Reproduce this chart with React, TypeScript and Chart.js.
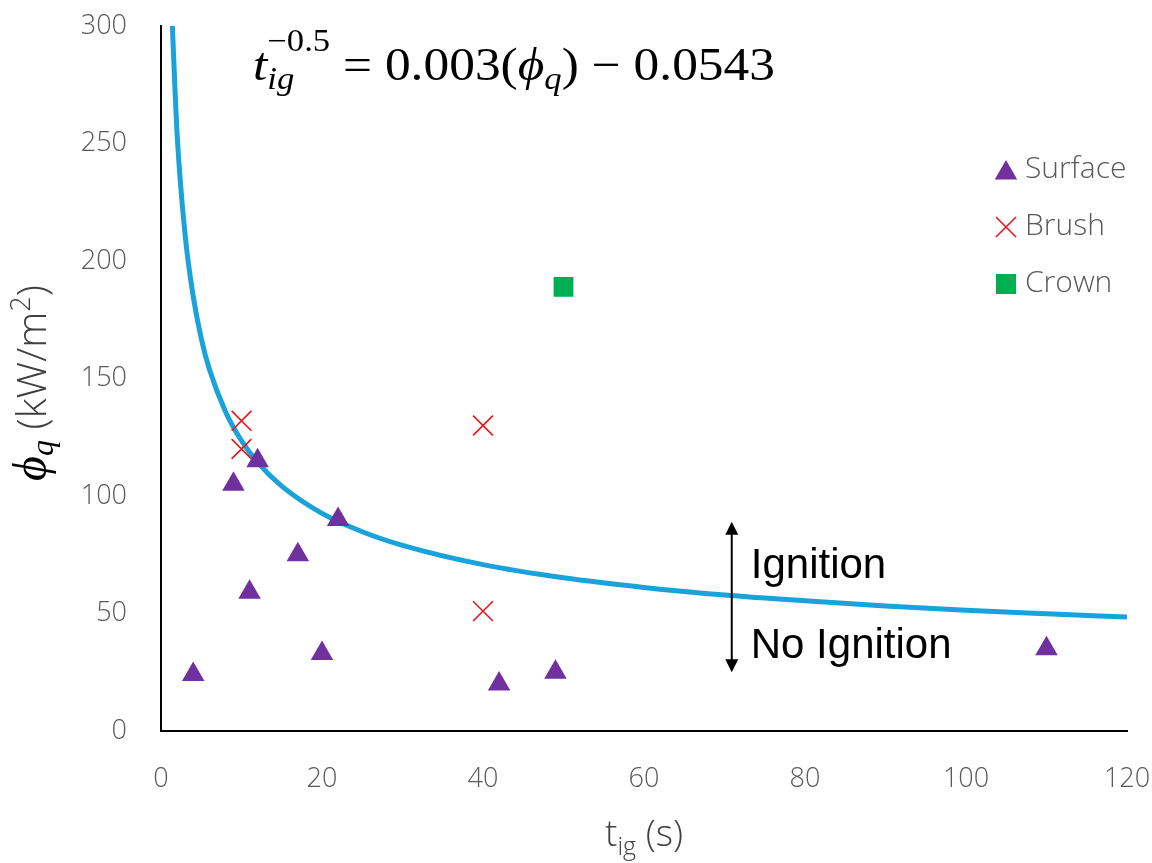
import React, { useEffect, useRef } from "react";
import { Chart, registerables } from "chart.js";

Chart.register(...registerables);

// ---- Data ----
const surfaceT = [4, 9, 11, 12, 17, 20, 22, 42, 49, 110];
const surfaceQ = [24, 105, 59, 115, 75, 33, 90, 20, 25, 35];

const brushT = [10, 10, 40, 40];
const brushQ = [132, 120, 130, 51];

const crownT = [50];
const crownQ = [189];

// fitted curve t_ig^-0.5 = 0.003(phi_q) - 0.0543
const curveT = [1.35, 2, 3, 4, 5, 6, 8, 10, 12, 15, 20, 25, 30, 40, 50, 60, 70, 80, 90, 100, 110, 120];
const curveQ = [305, 254, 211, 185, 167, 154, 136, 123.5, 114.3, 104.2, 92.6, 84.8, 79, 70.8, 65.2, 61.1, 57.9, 55.4, 53.2, 51.4, 49.9, 48.5];

const xTicks = [0, 20, 40, 60, 80, 100, 120];
const yTicks = [0, 50, 100, 150, 200, 250, 300];

const legendLabels = ["Surface", "Brush", "Crown"];

const COLORS = {
  surface: "#7030A0",
  brush: "#E8161C",
  crown: "#00B050",
  curve: "#1AA2DA",
  tick: "#595959",
};

const LIGHT = "300";
const SANS = '"Open Sans", "Noto Sans", sans-serif';
const SERIF = '"Liberation Serif", "DejaVu Serif", serif';
const ARIAL = '"Liberation Sans", Arial, sans-serif';

function toPts(xs: number[], ys: number[]) {
  return xs.map((x, i) => ({ x, y: ys[i] }));
}

function drawMarker(ctx: CanvasRenderingContext2D, kind: string, x: number, y: number) {
  ctx.save();
  if (kind === "triangle") {
    const r = 13;
    ctx.fillStyle = COLORS.surface;
    ctx.beginPath();
    ctx.moveTo(x, y - r);
    ctx.lineTo(x + Math.sin((2 * Math.PI) / 3) * r, y + r / 2);
    ctx.lineTo(x - Math.sin((2 * Math.PI) / 3) * r, y + r / 2);
    ctx.closePath();
    ctx.fill();
  } else if (kind === "cross") {
    const h = 10;
    ctx.strokeStyle = COLORS.brush;
    ctx.lineWidth = 1.6;
    ctx.beginPath();
    ctx.moveTo(x - h, y - h);
    ctx.lineTo(x + h, y + h);
    ctx.moveTo(x + h, y - h);
    ctx.lineTo(x - h, y + h);
    ctx.stroke();
  } else {
    ctx.fillStyle = COLORS.crown;
    ctx.fillRect(x - 10, y - 10, 20, 20);
  }
  ctx.restore();
}

const overlayPlugin = {
  id: "overlay",
  afterDraw(chart: any) {
    const ctx: CanvasRenderingContext2D = chart.ctx;
    const xs = chart.scales.x;
    const ys = chart.scales.y;
    const ca = chart.chartArea;

    // ---- legend ----
    const kinds = ["triangle", "cross", "square"];
    const legendY = [169, 226, 283];
    ctx.save();
    ctx.font = `${LIGHT} 30px ${SANS}`;
    ctx.fillStyle = COLORS.tick;
    ctx.textBaseline = "middle";
    ctx.textAlign = "left";
    legendLabels.forEach((lab, i) => {
      drawMarker(ctx, kinds[i], 1006, legendY[i] + (kinds[i] === "triangle" ? 4 : 1));
      ctx.fillText(lab, 1025, legendY[i]);
    });
    ctx.restore();

    // ---- arrow with Ignition / No Ignition ----
    const ax = xs.getPixelForValue(70.9);
    const aTop = ys.getPixelForValue(89);
    const aBot = ys.getPixelForValue(25);
    ctx.save();
    ctx.strokeStyle = "#000";
    ctx.fillStyle = "#000";
    ctx.lineWidth = 2;
    ctx.beginPath();
    ctx.moveTo(ax, aTop + 10);
    ctx.lineTo(ax, aBot - 10);
    ctx.stroke();
    ctx.beginPath();
    ctx.moveTo(ax, aTop);
    ctx.lineTo(ax - 6.5, aTop + 13);
    ctx.lineTo(ax + 6.5, aTop + 13);
    ctx.closePath();
    ctx.fill();
    ctx.beginPath();
    ctx.moveTo(ax, aBot);
    ctx.lineTo(ax - 6.5, aBot - 13);
    ctx.lineTo(ax + 6.5, aBot - 13);
    ctx.closePath();
    ctx.fill();
    ctx.font = `42px ${ARIAL}`;
    ctx.textAlign = "left";
    ctx.textBaseline = "alphabetic";
    ctx.fillText("Ignition", ax + 19, ys.getPixelForValue(65.2));
    ctx.fillText("No Ignition", ax + 19, ys.getPixelForValue(31.1));
    ctx.restore();

    // ---- equation ----
    ctx.save();
    ctx.fillStyle = "#000";
    ctx.textBaseline = "alphabetic";
    ctx.textAlign = "left";
    const big = 46;
    const small = 31;
    const base = 80;
    const startX = 253;
    const targetW = 522;
    const items: Array<{ t: string; f: string; dy: number; adv: boolean }> = [
      { t: "t", f: `italic ${big}px ${SERIF}`, dy: 0, adv: true },
      { t: "\u22120.5", f: `${small}px ${SERIF}`, dy: -29, adv: false },
      { t: "ig", f: `italic ${small}px ${SERIF}`, dy: 9, adv: true },
      { t: " = 0.003(", f: `${big}px ${SERIF}`, dy: 0, adv: true },
      { t: "\u03D5", f: `italic ${big}px ${SERIF}`, dy: 0, adv: true },
      { t: "q", f: `italic ${small}px ${SERIF}`, dy: 9, adv: true },
      { t: ") \u2212 0.0543", f: `${big}px ${SERIF}`, dy: 0, adv: true },
    ];
    let total = 0;
    let pendingSup = 0;
    items.forEach((it) => {
      ctx.font = it.f;
      const w = ctx.measureText(it.t).width;
      if (!it.adv) {
        pendingSup = w;
      } else if (pendingSup) {
        total += Math.max(pendingSup, w);
        pendingSup = 0;
      } else total += w;
    });
    const sx = targetW / total;
    ctx.translate(startX, 0);
    ctx.scale(sx, 1);
    let cx = 0;
    pendingSup = 0;
    items.forEach((it) => {
      ctx.font = it.f;
      const w = ctx.measureText(it.t).width;
      ctx.fillText(it.t, cx, base + it.dy);
      if (!it.adv) {
        pendingSup = w;
      } else if (pendingSup) {
        cx += Math.max(pendingSup, w);
        pendingSup = 0;
      } else cx += w;
    });
    ctx.restore();

    // ---- x axis title ----
    ctx.save();
    ctx.fillStyle = "#404040";
    ctx.textBaseline = "alphabetic";
    ctx.textAlign = "left";
    const tF = `${LIGHT} 37px ${SANS}`;
    const sF = `${LIGHT} 25px ${SANS}`;
    ctx.font = tF;
    const wT = ctx.measureText("t").width;
    const wS = ctx.measureText(" (s)").width;
    ctx.font = sF;
    const wIg = ctx.measureText("ig").width;
    const totalX = wT + wIg + wS;
    const midX = (ca.left + ca.right) / 2;
    let px = midX - totalX / 2;
    const xb = 846;
    ctx.font = tF;
    ctx.fillText("t", px, xb);
    px += wT;
    ctx.font = sF;
    ctx.fillText("ig", px, xb + 9);
    px += wIg;
    ctx.font = tF;
    ctx.fillText(" (s)", px, xb);
    ctx.restore();

    // ---- y axis title (rotated) ----
    ctx.save();
    ctx.translate(46, 383);
    ctx.rotate(-Math.PI / 2);
    ctx.textBaseline = "alphabetic";
    ctx.textAlign = "left";
    const phiF = `italic 48px ${SERIF}`;
    const qF = `italic 32px ${SERIF}`;
    const uF = `${LIGHT} 41px ${SANS}`;
    const supF = `${LIGHT} 27px ${SANS}`;
    ctx.font = phiF;
    const wPhi = ctx.measureText("\u03D5").width;
    ctx.font = qF;
    const wQ = ctx.measureText("q").width;
    ctx.font = uF;
    const wU = ctx.measureText(" (kW/m").width;
    const wP = ctx.measureText(")").width;
    ctx.font = supF;
    const w2 = ctx.measureText("2").width;
    const totY = wPhi + wQ + wU + w2 + wP;
    let py = -totY / 2;
    ctx.fillStyle = "#000";
    ctx.font = phiF;
    ctx.fillText("\u03D5", py, 0);
    py += wPhi;
    ctx.font = qF;
    ctx.fillText("q", py, 7);
    py += wQ;
    ctx.fillStyle = "#404040";
    ctx.font = uF;
    ctx.fillText(" (kW/m", py, 0);
    py += wU;
    ctx.font = supF;
    ctx.fillText("2", py, -16);
    py += w2;
    ctx.font = uF;
    ctx.fillText(")", py, 0);
    ctx.restore();
  },
};

function zeroPad(s: any) {
  s.paddingTop = 0;
  s.paddingBottom = 0;
  s.paddingLeft = 0;
  s.paddingRight = 0;
}

export default function App() {
  const ref = useRef<HTMLCanvasElement | null>(null);

  useEffect(() => {
    document.body.style.margin = "0";
    const canvas = ref.current;
    if (!canvas) return;
    const chart = new Chart(canvas, {
      type: "scatter",
      data: {
        datasets: [
          {
            label: legendLabels[0],
            data: toPts(surfaceT, surfaceQ),
            pointStyle: "triangle",
            pointRadius: 13,
            pointHoverRadius: 13,
            backgroundColor: COLORS.surface,
            borderColor: COLORS.surface,
            borderWidth: 0,
            order: 1,
          },
          {
            label: legendLabels[1],
            data: toPts(brushT, brushQ),
            pointStyle: "crossRot",
            pointRadius: 14,
            pointHoverRadius: 14,
            borderColor: COLORS.brush,
            backgroundColor: COLORS.brush,
            borderWidth: 1.6,
            order: 1,
          },
          {
            label: legendLabels[2],
            data: toPts(crownT, crownQ),
            pointStyle: "rect",
            pointRadius: 14,
            pointHoverRadius: 14,
            backgroundColor: COLORS.crown,
            borderColor: COLORS.crown,
            borderWidth: 0,
            order: 1,
          },
          {
            label: "fit",
            data: toPts(curveT, curveQ),
            showLine: true,
            pointRadius: 0,
            borderColor: COLORS.curve,
            borderWidth: 5,
            cubicInterpolationMode: "monotone",
            order: 10,
          } as any,
        ],
      },
      options: {
        animation: false,
        responsive: false,
        events: [],
        layout: { padding: { top: 26, right: 25, left: 0, bottom: 0 } },
        plugins: {
          legend: { display: false },
          tooltip: { enabled: false },
        },
        scales: {
          x: {
            type: "linear",
            min: 0,
            max: 120,
            afterFit: (s: any) => {
              s.height = 132;
              zeroPad(s);
            },
            afterBuildTicks: (s: any) => {
              s.ticks = xTicks.map((v) => ({ value: v }));
            },
            grid: { display: false, drawTicks: false },
            border: { display: true, color: "#000", width: 2 },
            ticks: {
              padding: 32,
              color: COLORS.tick,
              font: { family: SANS, size: 27, weight: LIGHT as any },
              maxRotation: 0,
            },
          },
          y: {
            type: "linear",
            min: 0,
            max: 300,
            afterFit: (s: any) => {
              s.width = 161;
              zeroPad(s);
            },
            afterBuildTicks: (s: any) => {
              s.ticks = yTicks.map((v) => ({ value: v }));
            },
            grid: { display: false, drawTicks: false },
            border: { display: true, color: "#000", width: 2 },
            ticks: {
              padding: 34,
              color: COLORS.tick,
              font: { family: SANS, size: 27, weight: LIGHT as any },
            },
          },
        },
      },
      plugins: [overlayPlugin],
    });
    return () => chart.destroy();
  }, []);

  return (
    <canvas
      ref={ref}
      width={1152}
      height={863}
      style={{ position: "fixed", left: 0, top: 0, width: 1152, height: 863, background: "#fff" }}
    />
  );
}
